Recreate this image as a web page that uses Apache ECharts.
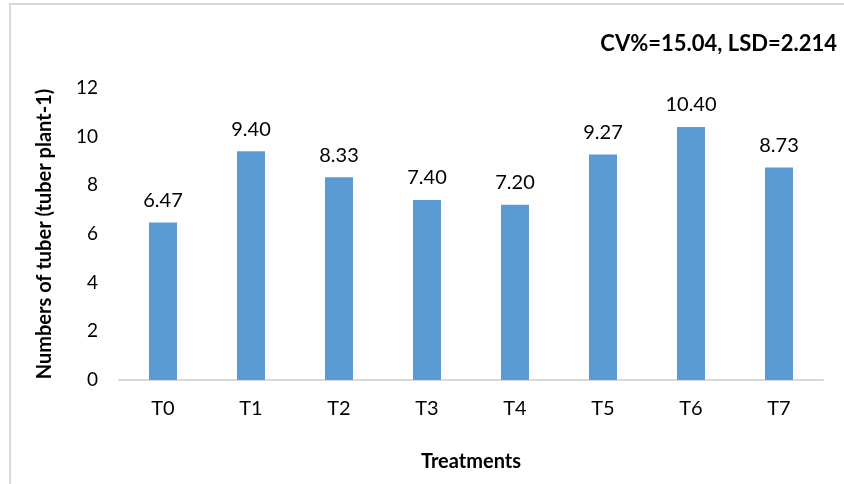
<!DOCTYPE html>
<html>
<head>
<meta charset="utf-8">
<script src="https://cdn.jsdelivr.net/npm/echarts@6/dist/echarts.min.js"></script>
<style>html,body{margin:0;padding:0;background:#fff}#c{width:844px;height:484px}</style>
</head>
<body>
<div id="c"></div>
<script>
const categories = ['T0','T1','T2','T3','T4','T5','T6','T7'];
const values = [6.47, 9.40, 8.33, 7.40, 7.20, 9.27, 10.40, 8.73];
const yTicks = [0, 2, 4, 6, 8, 10, 12];
const titleText = 'CV%=15.04, LSD=2.214';
const xName = 'Treatments';
const yName = 'Numbers of tuber (tuber plant-1)';

const FONT = 'Lato';
const chart = echarts.init(document.getElementById('c'), null, {renderer: 'canvas'});
chart.setOption({
  animation: false,
  title: {
    text: titleText, right: 2, top: 28,
    textStyle: {fontFamily: FONT, fontWeight: 'bold', fontSize: 22, color: '#000'}
  },
  graphic: [{
    type: 'polyline', silent: true,
    shape: {points: [[10, 490], [10, 4], [850, 4]]},
    style: {stroke: '#d9d9d9', lineWidth: 2, fill: null}
  }],
  grid: {left: 119, right: 21, top: 88, bottom: 104},
  xAxis: {
    type: 'category', data: categories,
    name: xName, nameLocation: 'middle', nameGap: 72,
    nameTextStyle: {fontFamily: FONT, fontWeight: 'bold', fontSize: 20, color: '#000'},
    axisLine: {lineStyle: {color: '#d9d9d9', width: 2}},
    axisTick: {show: false},
    axisLabel: {fontFamily: FONT, fontSize: 20, color: '#000', margin: 19}
  },
  yAxis: {
    type: 'value', min: yTicks[0], max: yTicks[yTicks.length - 1], interval: 2,
    name: yName, nameLocation: 'middle', nameGap: 64,
    nameTextStyle: {fontFamily: FONT, fontWeight: 'bold', fontSize: 20, color: '#000'},
    axisLine: {show: false}, axisTick: {show: false},
    splitLine: {show: false},
    axisLabel: {fontFamily: FONT, fontSize: 19, color: '#000', margin: 21}
  },
  series: [{
    type: 'bar', data: values, barWidth: 28,
    itemStyle: {color: '#5b9bd5'},
    label: {
      show: true, position: 'top', distance: 12,
      formatter: p => p.value.toFixed(2),
      fontFamily: FONT, fontSize: 20, color: '#000'
    }
  }]
});
</script>
</body>
</html>
